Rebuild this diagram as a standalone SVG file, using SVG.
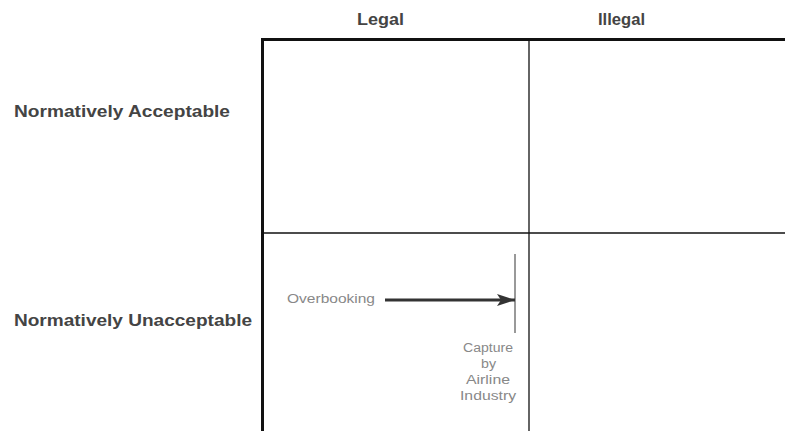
<svg xmlns="http://www.w3.org/2000/svg" width="785" height="431" viewBox="0 0 785 431">
<style>
.hdr{font-family:"Liberation Sans",Arial,sans-serif;font-weight:bold;font-size:16px;fill:#444}
.lbl{font-family:"Liberation Sans",Arial,sans-serif;font-size:12px;fill:#888}
.thick{stroke:#111;stroke-width:3;fill:none}
.thin{stroke:#111;stroke-width:1.3;fill:none}
</style>
<defs>
<marker id="ah" markerWidth="18" markerHeight="12" refX="18" refY="6" orient="auto" markerUnits="userSpaceOnUse" viewBox="0 0 18 12">
<path d="M0,0 L18,6 L0,12 L4,6 Z" fill="#333"/>
</marker>
</defs>
<rect width="785" height="431" fill="#fff"/>
<g id="grid">
<line class="thick" x1="261" y1="39.5" x2="785" y2="39.5"/>
<line class="thick" x1="262.5" y1="38" x2="262.5" y2="431"/>
<line class="thin" x1="529" y1="39" x2="529" y2="431"/>
<line class="thin" x1="262" y1="233" x2="785" y2="233"/>
</g>
<g id="col-legal"><text class="hdr" x="357" y="25" textLength="47" lengthAdjust="spacingAndGlyphs">Legal</text></g>
<g id="col-illegal"><text class="hdr" x="598" y="25" textLength="47" lengthAdjust="spacingAndGlyphs">Illegal</text></g>
<g id="row-acceptable"><text class="hdr" x="14" y="117" textLength="216" lengthAdjust="spacingAndGlyphs">Normatively Acceptable</text></g>
<g id="row-unacceptable"><text class="hdr" x="14" y="326" textLength="238" lengthAdjust="spacingAndGlyphs">Normatively Unacceptable</text></g>
<g id="overbooking"><text class="lbl" x="287" y="303" textLength="88" lengthAdjust="spacingAndGlyphs">Overbooking</text></g>
<g id="capture">
<line x1="515" y1="254" x2="515" y2="333" stroke="#999" stroke-width="2"/>
<text class="lbl" x="463" y="352" textLength="50" lengthAdjust="spacingAndGlyphs">Capture</text>
<text class="lbl" x="481" y="368" textLength="15" lengthAdjust="spacingAndGlyphs">by</text>
<text class="lbl" x="466" y="384" textLength="44" lengthAdjust="spacingAndGlyphs">Airline</text>
<text class="lbl" x="460" y="400" textLength="56" lengthAdjust="spacingAndGlyphs">Industry</text>
</g>
<g id="connectors">
<line x1="385" y1="300" x2="515" y2="300" stroke="#333" stroke-width="3" marker-end="url(#ah)"/>
</g>
</svg>
